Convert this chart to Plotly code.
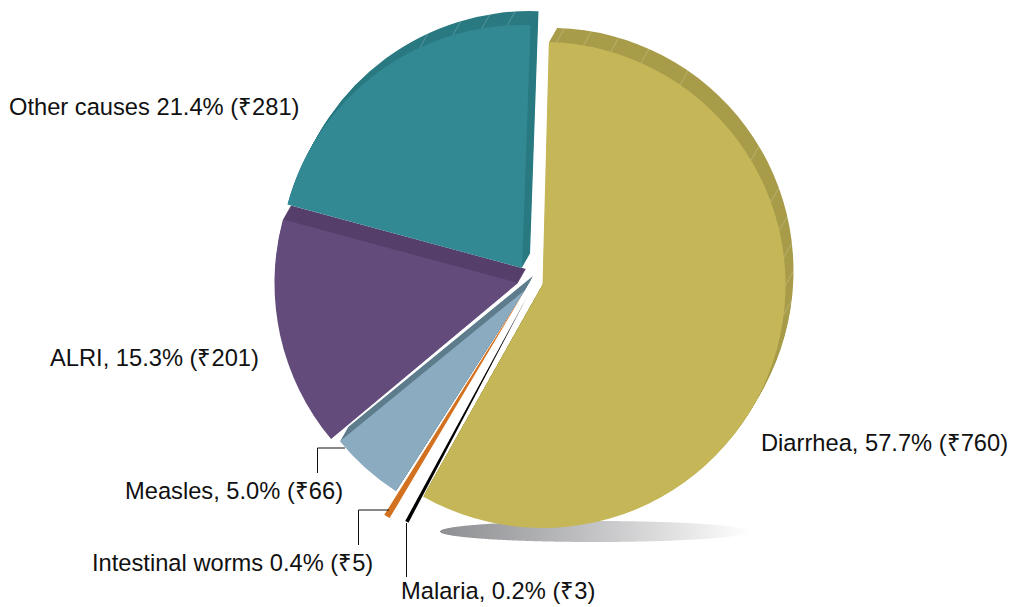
import math
import plotly.graph_objects as go

W, H = 1011, 607

# Data
causes = ["Diarrhea", "Malaria", "Intestinal worms", "Measles", "ALRI", "Other causes"]
values = [760, 3, 5, 66, 201, 281]
labels = ["Diarrhea, 57.7% (₹760)", "Malaria, 0.2% (₹3)", "Intestinal worms 0.4% (₹5)",
          "Measles, 5.0% (₹66)", "ALRI, 15.3% (₹201)", "Other causes 21.4% (₹281)"]

# Styling
front_colors = ["#c5b758", "#000000", "#d2711f", "#8aabc0", "#634c7b", "#338993"]
side_colors = ["#a89c4a", None, None, "#5f7d8d", "#563f6b", "#2a7a82"]
apex_x = [542.5, 527, 524, 525, 518, 522]
apex_y = [285, 297, 292, 290, 283, 268]
radii = [243, 255, 263, 239, 243.5, 243]
rotations = [1.5, -0.2, 2, 2.6, 2, 2]
label_x = [761, 401, 92, 125, 50, 9]
label_y = [443, 591, 563, 491, 358, 107]
depth_x, depth_y = 8, -14
depth_steps = 14
diarrhea_facets = [3.3, 9.7, 16.3, 23.9, 34.5, 59.1, 70, 77, 83.4, 90, 97]
other_facets = [356.5, 350.5, 343.5, 335.2]
leaders = [
    [(345, 448), (317.5, 448), (317.5, 473)],
    [(389, 510), (358.5, 510), (358.5, 545)],
    [(406.5, 523), (406.5, 577)],
]
shadow = dict(left=440, right=750, top=521, bottom=542, dark=(143, 144, 147))


def px(x):
    return x / W


def py(y):
    return 1 - y / H


def slice_pie(i, color, cx, cy, r):
    colors = ["rgba(0,0,0,0)"] * len(values)
    colors[i] = color
    return go.Pie(
        values=values, labels=causes, sort=False, direction="clockwise",
        rotation=rotations[i], textinfo="none", hoverinfo="skip", showlegend=False,
        marker=dict(colors=colors, line=dict(width=0)),
        domain=dict(x=[px(cx - r), px(cx + r)], y=[py(cy + r), py(cy - r)]),
    )


fig = go.Figure()

# extruded sides first, back to front
for i in [0, 3, 4, 5]:
    for s in range(depth_steps, 0, -1):
        f = s / depth_steps
        fig.add_trace(slice_pie(i, side_colors[i], apex_x[i] + depth_x * f, apex_y[i] + depth_y * f, radii[i]))

# front faces
for i in [0, 1, 2, 3, 4, 5]:
    fig.add_trace(slice_pie(i, front_colors[i], apex_x[i], apex_y[i], radii[i]))

shapes = []

# ground shadow: 1px columns of an ellipse with a fading gradient
cx = (shadow["left"] + shadow["right"]) / 2
a = (shadow["right"] - shadow["left"]) / 2
cy = (shadow["top"] + shadow["bottom"]) / 2
b = (shadow["bottom"] - shadow["top"]) / 2
for x in range(shadow["left"], shadow["right"]):
    t = (x + 0.5 - shadow["left"]) / (shadow["right"] - shadow["left"])
    h = b * math.sqrt(max(0, 1 - ((x + 0.5 - cx) / a) ** 2))
    col = "rgb(%d,%d,%d)" % tuple(round(c + (255 - c) * t ** 1.1) for c in shadow["dark"])
    shapes.append(dict(type="rect", xref="paper", yref="paper", layer="below",
                       x0=px(x), x1=px(x + 1), y0=py(cy + h), y1=py(cy - h),
                       fillcolor=col, line=dict(width=0)))


def facet(i, deg):
    rad = math.radians(deg)
    x0 = apex_x[i] + radii[i] * math.sin(rad)
    y0 = apex_y[i] - radii[i] * math.cos(rad)
    return dict(type="line", xref="paper", yref="paper", layer="above",
                x0=px(x0), y0=py(y0), x1=px(x0 + depth_x), y1=py(y0 + depth_y),
                line=dict(color="rgba(255,255,255,0.3)", width=0.7))


shapes += [facet(0, d) for d in diarrhea_facets]
shapes += [facet(5, d) for d in other_facets]

# leader lines
for pts in leaders:
    path = "M " + " L ".join(f"{px(x)} {py(y)}" for x, y in pts)
    shapes.append(dict(type="path", xref="paper", yref="paper", path=path,
                       line=dict(color="#111111", width=1), layer="above"))

annotations = [
    dict(text=t, x=px(x), y=py(y), xref="paper", yref="paper", xanchor="left", yanchor="middle",
         showarrow=False, borderpad=0, borderwidth=0,
         font=dict(family="Liberation Sans", size=23.7, color="#111111"))
    for t, x, y in zip(labels, label_x, label_y)
]

fig.update_layout(width=W, height=H, margin=dict(l=0, r=0, t=0, b=0),
                  paper_bgcolor="white", plot_bgcolor="white",
                  shapes=shapes, annotations=annotations)
fig.write_html("out.html", config=dict(displayModeBar=False),
               post_script="document.body.style.margin='0';document.body.style.overflow='hidden';")
